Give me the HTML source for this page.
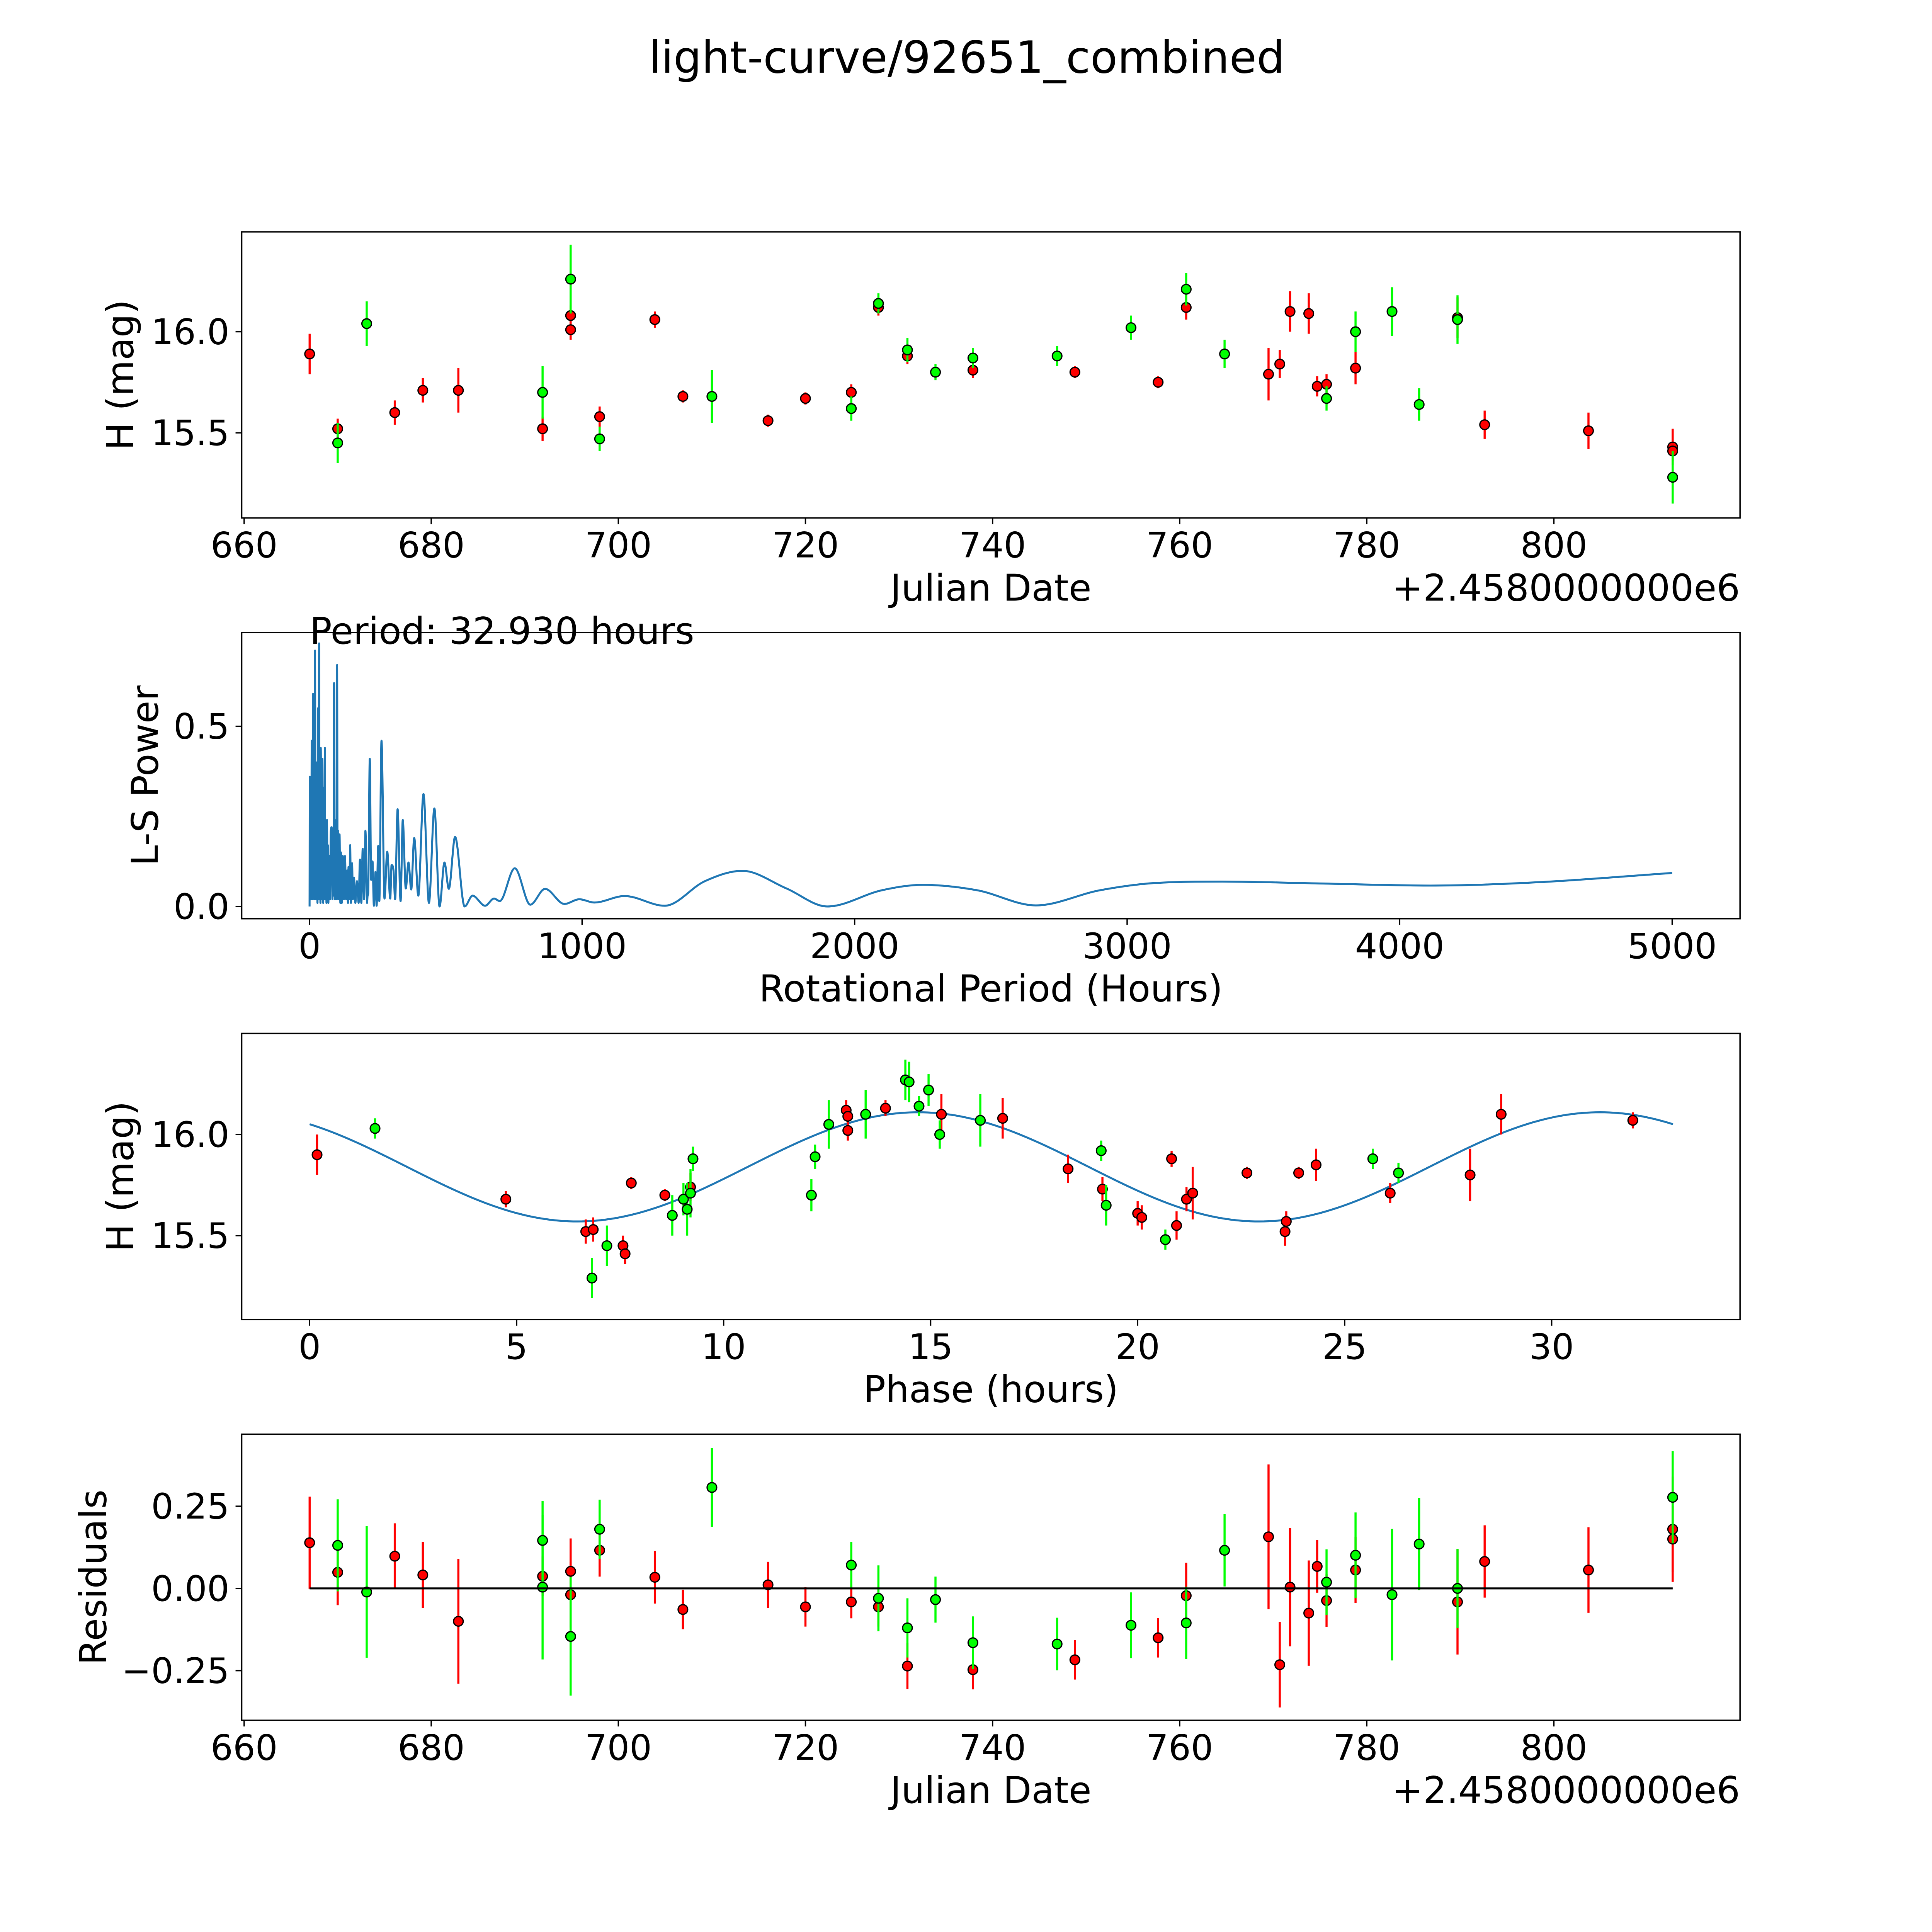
<!DOCTYPE html>
<html><head><meta charset="utf-8"><style>
html,body{margin:0;padding:0;background:#fff;overflow:hidden;width:5400px;height:5400px}
svg{display:block}
text{font-family:"DejaVu Sans","Liberation Sans",sans-serif;fill:#000}
</style></head><body>
<svg id="chart" xmlns="http://www.w3.org/2000/svg" width="5400" height="5400" viewBox="0 0 1692 1692">
<rect x="0" y="0" width="1692" height="1692" fill="#fff"/>
<text x="784" y="59" font-size="36" text-anchor="middle">light-curve/92651_combined</text>
</svg>
<script>
// ---- Panel 1: light curve ----
const redDates=[667.0,670.0,676.1,679.1,682.9,691.9,694.9,694.9,698.0,703.9,706.9,716.0,720.0,724.9,727.8,730.9,737.9,748.8,757.7,760.7,769.5,770.7,771.8,773.8,774.7,775.7,778.8,789.7,792.6,803.7,812.7,812.7];
const redMags=[15.89,15.52,15.60,15.71,15.71,15.52,16.08,16.01,15.58,16.06,15.68,15.56,15.67,15.70,16.12,15.88,15.81,15.80,15.75,16.12,15.79,15.84,16.10,16.09,15.73,15.74,15.82,16.07,15.54,15.51,15.43,15.41];
const redErrs=[0.1,0.05,0.06,0.06,0.11,0.06,0.05,0.05,0.05,0.04,0.03,0.03,0.03,0.04,0.04,0.04,0.04,0.03,0.03,0.06,0.13,0.07,0.1,0.1,0.05,0.05,0.08,0.1,0.07,0.09,0.09,0.05];
const greenDates=[670.0,673.1,691.9,694.9,698.0,710.0,724.9,727.8,730.9,733.9,737.9,746.9,754.8,760.7,764.8,775.7,778.8,782.7,785.6,789.7,812.7];
const greenMags=[15.45,16.04,15.70,16.26,15.47,15.68,15.62,16.14,15.91,15.80,15.87,15.88,16.02,16.21,15.89,15.67,16.00,16.10,15.64,16.06,15.28];
const greenErrs=[0.1,0.11,0.13,0.17,0.06,0.13,0.06,0.05,0.06,0.04,0.05,0.05,0.06,0.08,0.07,0.06,0.1,0.12,0.08,0.12,0.13];
const dateTicks=[660,680,700,720,740,760,780,800];
const magTicks=[15.5,16.0];
// ---- Panel 2: periodogram ----
const lsPeriods=[0,1,2,4,6,8,9,11,12,13,15,17,19,20,22,24,25,27,29,31,33,35,37,38,40,41,44,47,50,53,55,56,58,60,62,64,66,67,69,72,75,78,81,84,86,88,90,93,95,97,98,100,101,103,105,107,110,113,115,118,122,126,130,134,138,141,143,146,149,152,156,159,163,168,174,180,185,190,195,200,205,211,213,215,221,226,231,236,242,246,252,256,264,275,285,296,301,308,314,323,334,342,353,363,373,384,399,418,438,458,477,495,511,534,569,598,644,677,698,753,810,864,935,990,1045,1156,1303,1450,1588,1750,1900,2100,2250,2450,2665,2900,3100,3350,3700,4113,4500,5000];
const lsPowers=[0,0.36,0.05,0.30,0.02,0.46,0.03,0.25,0.02,0.59,0.03,0.35,0.02,0.71,0.03,0.40,0.02,0.36,0.01,0.55,0.02,0.73,0.02,0.26,0.01,0.44,0.02,0.41,0.01,0.33,0.02,0.44,0.03,0.20,0.01,0.24,0.02,0.17,0.01,0.14,0.02,0.21,0.22,0.02,0.16,0.03,0.62,0.02,0.12,0.02,0.24,0.02,0.67,0.03,0.21,0.02,0.2,0.01,0.15,0.01,0.14,0.02,0.14,0.02,0.1,0.01,0.11,0.02,0.17,0.01,0.12,0.02,0.08,0.01,0.07,0.01,0.13,0.01,0.16,0.02,0.21,0.01,0.03,0.035,0.41,0.074,0.125,0.002,0.096,0.002,0.168,0.015,0.46,0.022,0.152,0.022,0.115,0.1,0.02,0.27,0.015,0.24,0.05,0.122,0.047,0.19,0.03,0.312,0.01,0.272,0,0.122,0.049,0.193,0,0.03,0.002,0.022,0.015,0.106,0.005,0.049,0.007,0.02,0.011,0.029,0.002,0.07,0.099,0.05,0,0.045,0.06,0.045,0.003,0.045,0.065,0.069,0.064,0.058,0.067,0.093];
const periodTicks=[0,1000,2000,3000,4000,5000];
const powerTicks=[0.0,0.5];
// ---- Panel 3: phased ----
const redPhases=[0.18,4.74,6.67,6.85,7.57,7.62,7.77,8.58,9.2,12.96,13.0,13.0,13.91,15.26,16.74,18.32,19.15,20.0,20.1,20.82,20.94,21.18,21.33,22.64,23.56,23.59,23.89,24.31,26.1,28.03,28.78,31.96];
const redPhaseMags=[15.90,15.68,15.52,15.53,15.45,15.41,15.76,15.70,15.74,16.12,16.09,16.02,16.13,16.10,16.08,15.83,15.73,15.61,15.59,15.88,15.55,15.68,15.71,15.81,15.52,15.57,15.81,15.85,15.71,15.80,16.10,16.07];
const redPhaseErrs=[0.1,0.04,0.06,0.06,0.05,0.05,0.03,0.03,0.07,0.05,0.05,0.05,0.04,0.1,0.1,0.07,0.06,0.06,0.06,0.04,0.07,0.06,0.13,0.03,0.07,0.05,0.03,0.08,0.05,0.13,0.1,0.04];
const greenPhases=[1.58,6.82,7.18,8.76,9.03,9.12,9.2,9.26,12.12,12.21,12.54,13.43,14.39,14.48,14.72,14.95,15.22,16.2,19.12,19.24,20.67,25.68,26.3];
const greenPhaseMags=[16.03,15.29,15.45,15.60,15.68,15.63,15.71,15.88,15.70,15.89,16.05,16.10,16.27,16.26,16.14,16.22,16.0,16.07,15.92,15.65,15.48,15.88,15.81];
const greenPhaseErrs=[0.05,0.1,0.1,0.1,0.08,0.13,0.12,0.06,0.08,0.06,0.12,0.12,0.1,0.1,0.05,0.08,0.07,0.13,0.05,0.1,0.05,0.05,0.05];
const modelParams=[15.84,0.27,14.7,16.465,32.93]; // mean, amplitude, peak phase, harmonic period, rotational period
const phaseTicks=[0,5,10,15,20,25,30];
// ---- Panel 4: residuals ----
const redResDates=[667.0,670.0,676.1,679.1,682.9,691.9,694.9,694.9,698.0,703.9,706.9,716.0,720.0,724.9,727.8,730.9,737.9,748.8,757.7,760.7,769.5,770.7,771.8,773.8,774.7,775.7,778.8,789.7,792.6,803.7,812.7,812.7];
const redRes=[0.139,0.049,0.098,0.041,-0.10,0.037,0.052,-0.019,0.116,0.034,-0.064,0.011,-0.056,-0.041,-0.056,-0.236,-0.247,-0.217,-0.15,-0.022,0.157,-0.232,0.004,-0.075,0.067,-0.037,0.056,-0.041,0.082,0.056,0.18,0.15];
const redResErrs=[0.14,0.1,0.1,0.1,0.19,0.06,0.1,0.1,0.08,0.08,0.06,0.07,0.06,0.05,0.06,0.07,0.06,0.06,0.06,0.1,0.22,0.13,0.18,0.16,0.08,0.08,0.1,0.16,0.11,0.13,0.16,0.1];
const greenResDates=[670.0,673.1,691.9,691.9,694.9,698.0,710.0,724.9,727.8,730.9,733.9,737.9,746.9,754.8,760.7,764.8,775.7,778.8,782.7,785.6,789.7,812.7];
const greenRes=[0.131,-0.011,0.146,0.004,-0.146,0.18,0.307,0.071,-0.03,-0.12,-0.034,-0.165,-0.169,-0.112,-0.105,0.116,0.019,0.101,-0.019,0.135,0,0.277];
const greenResErrs=[0.14,0.2,0.12,0.22,0.18,0.09,0.12,0.07,0.1,0.09,0.07,0.08,0.08,0.1,0.11,0.11,0.1,0.13,0.2,0.14,0.12,0.14];
const resTicks=[-0.25,0.00,0.25];

const NS='http://www.w3.org/2000/svg';
const svg=document.getElementById('chart');
function mk(tag,attrs,parent){const e=document.createElementNS(NS,tag);for(const k in attrs)e.setAttribute(k,attrs[k]);(parent||svg).appendChild(e);return e;}
function lin(d0,d1,r0,r1){return v=>r0+(v-d0)/(d1-d0)*(r1-r0);}
const L=196,R=1411;
const FS=28.5, LS=30;

function axes(name,top,bottom,xs,ys,xt,yt,xfmt,yfmt,xlabel,ylabel,ylabelX,offset){
  const g=mk('g',{});
  
  
  xt.forEach(v=>{const x=xs(v);
    mk('line',{x1:x,x2:x,y1:bottom,y2:bottom+5,stroke:'#000','stroke-width':1.1},g);
    const t=mk('text',{x:x,y:bottom+32,'font-size':FS,'text-anchor':'middle'},g);t.textContent=xfmt(v);
    
    });
  yt.forEach(v=>{const y=ys(v);
    mk('line',{x1:L,x2:L-5,y1:y,y2:y,stroke:'#000','stroke-width':1.1},g);
    const t=mk('text',{x:L-10,y:y+10,'font-size':FS,'text-anchor':'end'},g);t.textContent=yfmt(v);
    
    });
  const xl=mk('text',{x:(L+R)/2,y:bottom+67,'font-size':LS,'text-anchor':'middle'},g);xl.textContent=xlabel;
  
  
  const yc=(top+bottom)/2;
  const yl=mk('text',{x:ylabelX,y:yc,'font-size':LS,'text-anchor':'middle',transform:`rotate(-90 ${ylabelX} ${yc})`},g);yl.textContent=ylabel;
  
  
  if(offset){const o=mk('text',{x:R,y:bottom+67,'font-size':LS,'text-anchor':'end'},g);o.textContent=offset;
    
    }
  return g;
}
function frame(name,top,bottom){const f=mk('rect',{x:L,y:top,width:R-L,height:bottom-top,fill:'none',stroke:'#000','stroke-width':1.1});
  
  }
function errpts(name,xsArr,ysArr,es,xs,ys,color){
  const g=mk('g',{});
  
  
  xsArr.forEach((d,i)=>{const x=xs(d);
    const l=mk('line',{x1:x,x2:x,y1:ys(ysArr[i]-es[i]),y2:ys(ysArr[i]+es[i]),stroke:color,'stroke-width':1.7},g);
    
    });
  xsArr.forEach((d,i)=>{
    const c=mk('circle',{cx:xs(d),cy:ys(ysArr[i]),r:3.9,fill:color,stroke:'#000','stroke-width':1},g);
    
    });
}
const f1=v=>v.toFixed(1), f0=v=>String(v), f2=v=>(v<0?'\u2212':'')+Math.abs(v).toFixed(2);

// Panel 1
{const top=188,bot=420;const xs=lin(659.74,819.9,L,R),ys=lin(16.494,15.079,top,bot);
 errpts('red-lightcurve',redDates,redMags,redErrs,xs,ys,'#ff0000');
 errpts('green-lightcurve',greenDates,greenMags,greenErrs,xs,ys,'#00ff00');
 frame('lightcurve',top,bot);
 axes('lightcurve',top,bot,xs,ys,dateTicks,magTicks,f0,f1,'Julian Date','H (mag)',108,'+2.4580000000e6');}
// Panel 2
{const top=513,bot=745;const xs=lin(-249,5249,L,R),ys=lin(0.760,-0.034,top,bot);
 const px=lsPeriods.map(xs),py=lsPowers.map(ys);const n=px.length;
 const dx=[],m=[],t=[];for(let i=0;i<n-1;i++){dx.push(px[i+1]-px[i]);m.push((py[i+1]-py[i])/(px[i+1]-px[i]));}
 t[0]=m[0];t[n-1]=m[n-2];for(let i=1;i<n-1;i++){t[i]=(m[i-1]*m[i]<=0)?0:(m[i-1]+m[i])/2;}
 for(let i=0;i<n-1;i++){if(m[i]===0){t[i]=0;t[i+1]=0;continue;}const a=t[i]/m[i],b=t[i+1]/m[i],s=a*a+b*b;if(s>9){const k=3/Math.sqrt(s);t[i]=k*a*m[i];t[i+1]=k*b*m[i];}}
 let d=`M${px[0]},${py[0]}`;for(let i=0;i<n-1;i++){const h=dx[i]/3;d+=` C${px[i]+h},${py[i]+t[i]*h} ${px[i+1]-h},${py[i+1]-t[i+1]*h} ${px[i+1]},${py[i+1]}`;}
 const p=mk('path',{d:d,fill:'none',stroke:'#1f77b4','stroke-width':1.6,'stroke-linejoin':'round'});
 
 
 frame('periodogram',top,bot);
 axes('periodogram',top,bot,xs,ys,periodTicks,powerTicks,f0,f1,'Rotational Period (Hours)','L-S Power',128,null);
 const pt=mk('text',{x:251,y:522,'font-size':LS});pt.textContent='Period: 32.930 hours';
 
 }
// Panel 3
{const top=838,bot=1070;const xs=lin(-1.64,34.55,L,R),ys=lin(16.5,15.085,top,bot);
 const [mean,amp,pk,hp,per]=modelParams;let d='';
 for(let i=0;i<=300;i++){const ph=per*i/300;const v=mean+amp*Math.cos(2*Math.PI*(ph-pk)/hp);d+=(i?' L':'M')+xs(ph).toFixed(2)+','+ys(v).toFixed(2);}
 const p=mk('path',{d:d,fill:'none',stroke:'#1f77b4','stroke-width':1.6});
 
 
 errpts('red-phased',redPhases,redPhaseMags,redPhaseErrs,xs,ys,'#ff0000');
 errpts('green-phased',greenPhases,greenPhaseMags,greenPhaseErrs,xs,ys,'#00ff00');
 frame('phased',top,bot);
 axes('phased',top,bot,xs,ys,phaseTicks,magTicks,f0,f1,'Phase (hours)','H (mag)',108,null);}
// Panel 4
{const top=1163,bot=1395;const xs=lin(659.74,819.9,L,R),ys=lin(0.469,-0.401,top,bot);
 errpts('red-residuals',redResDates,redRes,redResErrs,xs,ys,'#ff0000');
 errpts('green-residuals',greenResDates,greenRes,greenResErrs,xs,ys,'#00ff00');
 const z=mk('line',{x1:xs(667.0),x2:xs(812.7),y1:ys(0),y2:ys(0),stroke:'#000','stroke-width':1.6});
 
 
 frame('residuals',top,bot);
 axes('residuals',top,bot,xs,ys,dateTicks,resTicks,f0,f2,'Julian Date','Residuals',86,'+2.4580000000e6');}
</script>
</body></html>
